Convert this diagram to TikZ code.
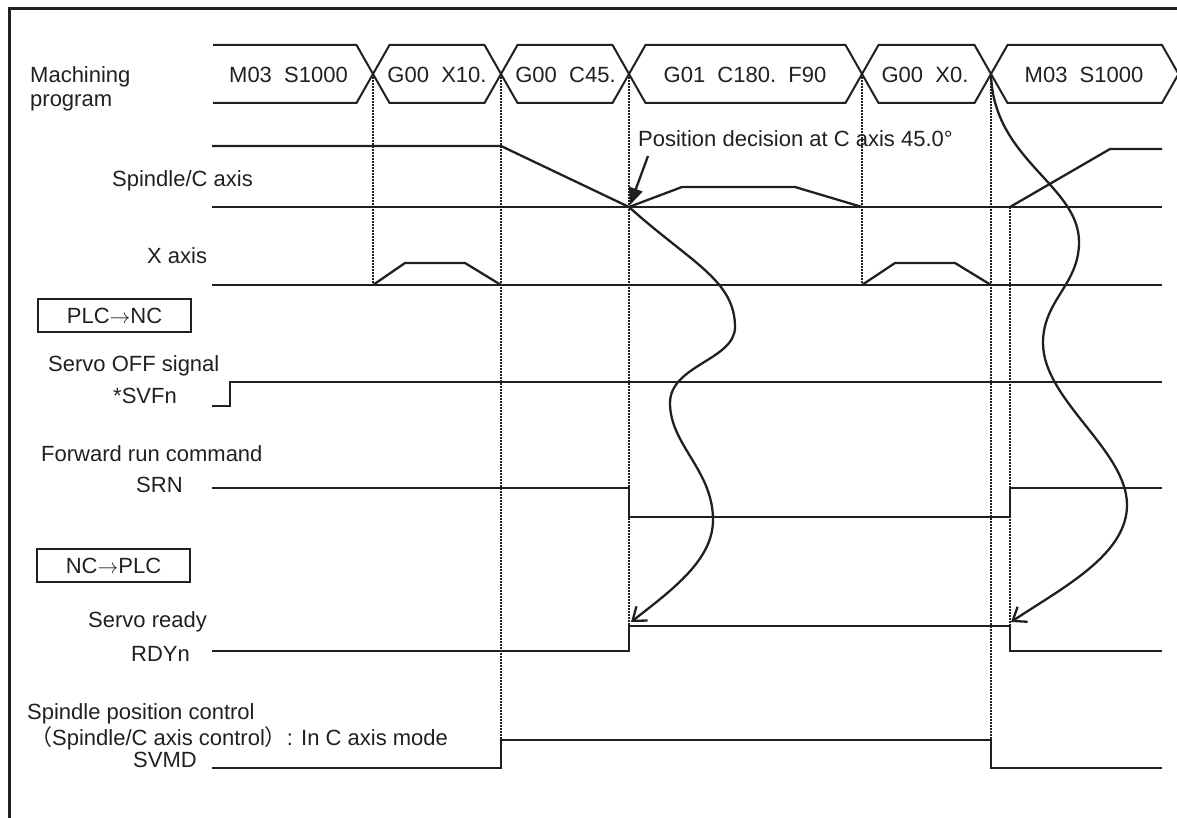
\documentclass[tikz,border=0pt]{standalone}
\usepackage{fontspec}
\setmainfont{Liberation Sans}
\newfontfamily\cjkfont{Noto Sans CJK JP}
\usetikzlibrary{arrows.meta}
\definecolor{ink}{RGB}{35,31,32}
\newcommand{\sigarrow}{\ensuremath{\rightarrow}}
\begin{document}
\begin{tikzpicture}[x=1pt,y=-1pt,
  sig/.style={draw=ink, line width=2.3pt, line join=miter},
  dotline/.style={draw=ink, line width=1.6pt, dash pattern=on 1.6pt off 1.4pt},
  lbl/.style={inner sep=0pt, text=ink, font=\fontsize{22}{26}\selectfont},
  tag/.style={lbl, draw=ink, line width=2.2pt, minimum width=153pt, minimum height=33pt},
  wave/.style={sig, -{Straight Barb[length=12pt,width=18pt]}},
  hex/.style={draw=ink, line width=2pt, line join=miter}
]
\useasboundingbox (0,0) rectangle (1177,818);
% frame
\draw[ink, line width=3pt] (9,820) -- (9,9) -- (1180,9);

% ---- left labels ----
\node[lbl, anchor=base west] (lMach) at (30,83) {Machining};
\node[lbl, anchor=base west] (lProg) at (30,107) {program};
\node[lbl, anchor=base west] (lSpC) at (112,187) {Spindle/C axis};
\node[lbl, anchor=base west] (lX) at (147,263) {X axis};
\node[tag] (plcnc) at (114.5,315.5) {PLC\sigarrow NC};
\node[lbl, anchor=base west] (lSvo) at (48,371) {Servo OFF signal};
\node[lbl, anchor=base west] (lSVF) at (113,403) {*SVFn};
\node[lbl, anchor=base west] (lFwd) at (41,461) {Forward run command};
\node[lbl, anchor=base west] (lSRN) at (136,492) {SRN};
\node[tag] (ncplc) at (113.5,565.5) {NC\sigarrow PLC};
\node[lbl, anchor=base west] (lRdy) at (88,627) {Servo ready};
\node[lbl, anchor=base west] (lRDY) at (131,661) {RDYn};
\node[lbl, anchor=base west] (lSpp) at (27,719) {Spindle position control};
\node[lbl, anchor=base west] (lSpc) at (30,745) {{\cjkfont （}Spindle/C axis control{\cjkfont ）}: In C axis mode};
\node[lbl, anchor=base west] (lSVMD) at (133,767) {SVMD};

% ---- machining program row ----
\draw[hex] (213,45) -- (356.5,45) -- (373,74) -- (356.5,103) -- (213,103);
\draw[hex] (373,74) -- (389.5,45) -- (484.5,45) -- (501,74) -- (484.5,103) -- (389.5,103) -- cycle;
\draw[hex] (501,74) -- (517.5,45) -- (612.5,45) -- (629,74) -- (612.5,103) -- (517.5,103) -- cycle;
\draw[hex] (629,74) -- (645.5,45) -- (845.5,45) -- (862,74) -- (845.5,103) -- (645.5,103) -- cycle;
\draw[hex] (862,74) -- (878.5,45) -- (974.5,45) -- (991,74) -- (974.5,103) -- (878.5,103) -- cycle;
\draw[hex] (991,74) -- (1007.5,45) -- (1162,45) -- (1178.5,74) -- (1162,103) -- (1007.5,103) -- cycle;
\node[lbl, anchor=base] (p1) at (288.5,83) {M03~~S1000};
\node[lbl, anchor=base] (p2) at (437,83) {G00~~X10.};
\node[lbl, anchor=base] (p3) at (565.5,83) {G00~~C45.};
\node[lbl, anchor=base] (p4) at (745,83) {G01~~C180.~~F90};
\node[lbl, anchor=base] (p5) at (925,83) {G00~~X0.};
\node[lbl, anchor=base] (p6) at (1084,83) {M03~~S1000};

% key points
\coordinate (x1) at (373,74);
\coordinate (x2) at (501,74);
\coordinate (x3) at (629,74);
\coordinate (x4) at (862,74);
\coordinate (x5) at (991,74);
\coordinate (cpos) at (629,207);
\coordinate (crise) at (1010,207);
\coordinate (rdyUp) at (629,626);
\coordinate (rdyDn) at (1010,626);

% ---- dotted guides ----
\draw[dotline] (x1) -- (373,285);
\draw[dotline] (x2) -- (501,740);
\draw[dotline] (x3) -- (rdyUp);
\draw[dotline] (x4) -- (862,285);
\draw[dotline] (x5) -- (991,740);
\draw[dotline] (crise) -- (rdyDn);

% ---- Spindle/C axis ----
\draw[sig] (212,146) -- (501,146) -- (cpos) -- (682,187) -- (795,187) -- (862,207);
\draw[sig] (212,207) -- (1162,207);
\draw[sig] (crise) -- (1110,149) -- (1162,149);

% ---- X axis ----
\draw[sig] (212,285) -- (1162,285);
\draw[sig] (373,285) -- (405,263) -- (465,263) -- (501,285);
\draw[sig] (862,285) -- (895,263) -- (955,263) -- (991,285);

% ---- *SVFn ----
\draw[sig] (212,406) -- (230,406) -- (230,382) -- (1162,382);
% ---- SRN ----
\draw[sig] (212,488) -- (629,488) -- (629,517) -- (1010,517) -- (1010,488) -- (1162,488);
% ---- RDYn ----
\draw[sig] (212,651) -- (629,651) -- (rdyUp) -- (rdyDn) -- (1010,651) -- (1162,651);
% ---- SVMD ----
\draw[sig] (212,768) -- (501,768) -- (501,740) -- (991,740) -- (991,768) -- (1162,768);

% ---- position decision ----
\node[lbl, anchor=base west] (posd) at (638,147) {Position decision at C axis 45.0°};
\coordinate (posTail) at (648,156);
\draw[sig, -{Triangle[length=17pt,width=14pt]}] (posTail) -- (630,205);

% ---- wavy arrows ----
\coordinate (t1) at (631,622);
\coordinate (t2) at (1011,622);
\draw[wave] (cpos) .. controls (690,262) and (735,280) .. (735,327)
  .. controls (735,360) and (670,365) .. (670,403)
  .. controls (670,445) and (713,470) .. (713,520)
  .. controls (713,560) and (672,590) .. (t1);
\draw[wave] (x5) .. controls (993,160) and (1079,185) .. (1079,242)
  .. controls (1079,285) and (1043,300) .. (1043,343)
  .. controls (1043,400) and (1127,450) .. (1127,505)
  .. controls (1127,555) and (1062,588) .. (t2);
\end{tikzpicture}
\end{document}
